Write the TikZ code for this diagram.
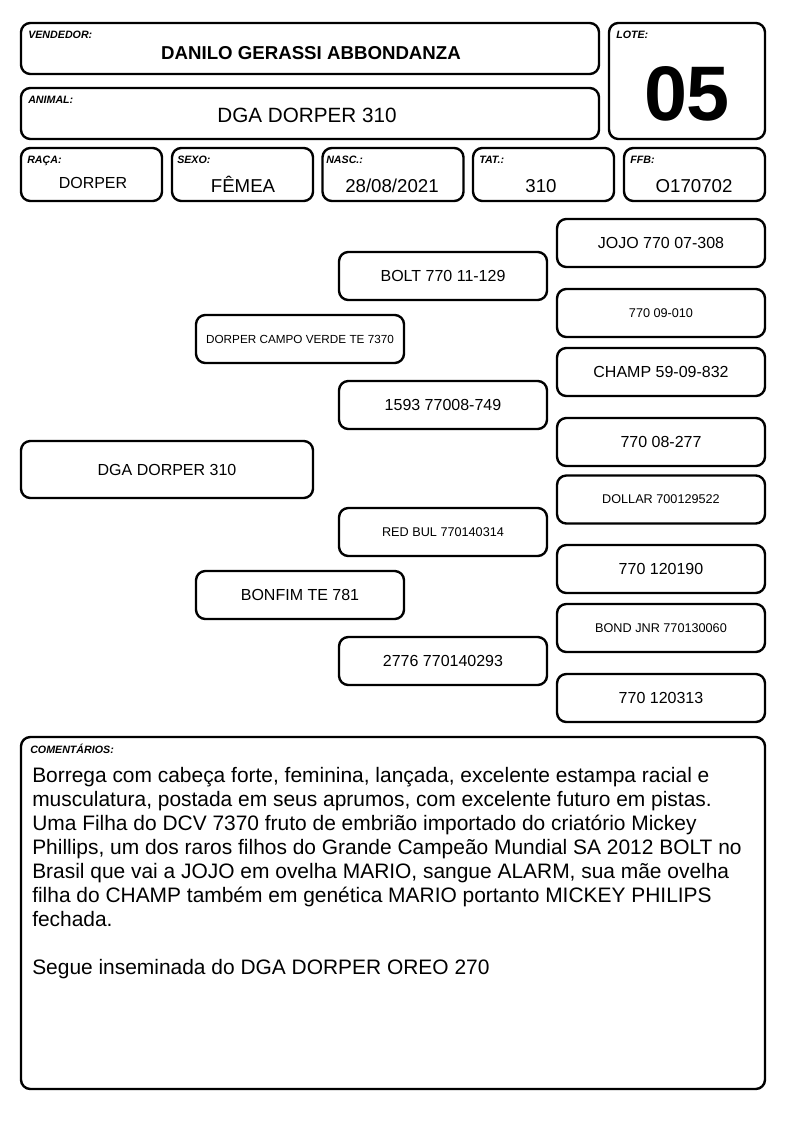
\documentclass[tikz,border=0pt]{standalone}
\usepackage{fontspec}
\setmainfont{Liberation Sans}
\tikzset{
  box/.style={draw, line width=1.8pt, rounded corners=7pt, inner sep=0pt},
  lbl/.style={font=\fontsize{8}{9}\selectfont\bfseries\itshape, anchor=base west, inner sep=0pt},
  val/.style={anchor=base, inner sep=0pt, font=\fontsize{14}{16}\selectfont},
  cell/.style={box, minimum width=105.75pt, minimum height=39.75pt},
  ped/.style={box, minimum width=156pt, minimum height=36pt, font=\fontsize{12}{14}\selectfont},
  pedsmall/.style={ped, font=\fontsize{9.5}{11}\selectfont},
  comment/.style={anchor=base west, inner sep=0pt, font=\fontsize{15.7}{18}\selectfont},
}
\begin{document}
\begin{tikzpicture}[x=0.75pt, y=-0.75pt]
\useasboundingbox (0,0) rectangle (794,1123);
% header
\node[box, minimum width=433.5pt, minimum height=38.25pt] (vendedor) at (310,48.5) {};
\node[lbl] (vendedor-lbl) at (28,39) {VENDEDOR:};
\node[val, font=\fontsize{14}{16}\selectfont\bfseries] (vendedor-val) at (311,60) {DANILO GERASSI ABBONDANZA};
\node[box, minimum width=433.5pt, minimum height=38.25pt] (animal) at (310,113.5) {};
\node[lbl] (animal-lbl) at (28,104) {ANIMAL:};
\node[val, font=\fontsize{15.5}{18}\selectfont] (animal-val) at (307,123) {DGA DORPER 310};
\node[box, minimum width=117pt, minimum height=87pt] (lote) at (687,81) {};
\node[lbl] (lote-lbl) at (616,39) {LOTE:};
\node[val, font=\fontsize{58}{60}\selectfont\bfseries] (lote-val) at (687,121) {05};
% second row
\node[cell] (raca) at (91.5,174.5) {};
\node[lbl] (raca-lbl) at (27,164) {RAÇA:};
\node[val, font=\fontsize{12}{14}\selectfont] (raca-val) at (93,189) {DORPER};
\node[cell] (sexo) at (242.5,174.5) {};
\node[lbl] (sexo-lbl) at (177,164) {SEXO:};
\node[val] (sexo-val) at (243,193) {FÊMEA};
\node[cell] (nasc) at (393,174.5) {};
\node[lbl] (nasc-lbl) at (326,164) {NASC.:};
\node[val] (nasc-val) at (392,193) {28/08/2021};
\node[cell] (tat) at (543.5,174.5) {};
\node[lbl] (tat-lbl) at (479,164) {TAT.:};
\node[val] (tat-val) at (541,193) {310};
\node[cell] (ffb) at (694.5,174.5) {};
\node[lbl] (ffb-lbl) at (630,164) {FFB:};
\node[val] (ffb-val) at (694,193) {O170702};
% pedigree
\node[box, minimum width=219pt, minimum height=42.75pt, font=\fontsize{12}{14}\selectfont] (animal-ped) at (167,469.5) {DGA DORPER 310};
\node[pedsmall, font=\fontsize{8.8}{10}\selectfont] (pai) at (300,339) {DORPER CAMPO VERDE TE 7370};
\node[ped] (mae) at (300,595) {BONFIM TE 781};
\node[ped] (avo-pp) at (443,276) {BOLT 770 11-129};
\node[ped] (avo-pm) at (443,405) {1593 77008-749};
\node[pedsmall] (avo-mp) at (443,532) {RED BUL 770140314};
\node[ped] (avo-mm) at (443,661) {2776 770140293};
\node[ped] (bis1) at (661,243) {JOJO 770 07-308};
\node[pedsmall] (bis2) at (661,313) {770 09-010};
\node[ped] (bis3) at (661,372) {CHAMP 59-09-832};
\node[ped] (bis4) at (661,442) {770 08-277};
\node[pedsmall] (bis5) at (661,499.5) {DOLLAR 700129522};
\node[ped] (bis6) at (661,569) {770 120190};
\node[pedsmall] (bis7) at (661,628) {BOND JNR 770130060};
\node[ped] (bis8) at (661,698) {770 120313};
% comments
\node[box, minimum width=558pt, minimum height=264pt] (comentarios) at (393,913) {};
\node[lbl] (comentarios-lbl) at (30,753) {COMENTÁRIOS:};
\foreach \line [count=\i from 0] in {
  {Borrega com cabeça forte, feminina, lançada, excelente estampa racial e},
  {musculatura, postada em seus aprumos, com excelente futuro em pistas.},
  {Uma Filha do DCV 7370 fruto de embrião importado do criatório Mickey},
  {Phillips, um dos raros filhos do Grande Campeão Mundial SA 2012 BOLT no},
  {Brasil que vai a JOJO em ovelha MARIO, sangue ALARM, sua mãe ovelha},
  {filha do CHAMP também em genética MARIO portanto MICKEY PHILIPS},
  {fechada.}}
  \node[comment] (c\i) at (32,{782+24*\i}) {\line};
\node[comment] (c-segue) at (32,974) {Segue inseminada do DGA DORPER OREO 270};
\end{tikzpicture}
\end{document}
